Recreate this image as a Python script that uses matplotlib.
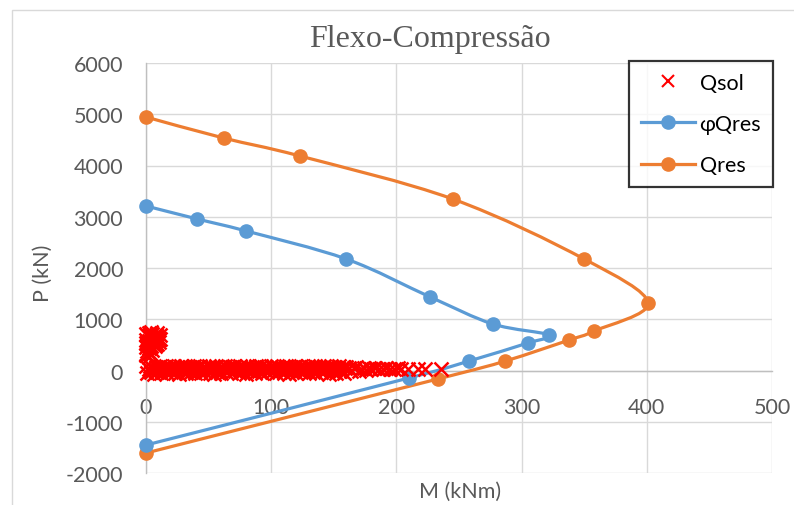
import matplotlib
matplotlib.use("Agg")
import matplotlib.pyplot as plt
from matplotlib.path import Path
from matplotlib.patches import PathPatch, Rectangle
from matplotlib.lines import Line2D
import numpy as np

plt.rcParams['font.family'] = ['Lato', 'DejaVu Sans']
plt.rcParams['axes.unicode_minus'] = False

# ---------------- data ----------------
title = "Flexo-Compressão"
x_label = "M (kNm)"
y_label = "P (kN)"
x_ticks = [0, 100, 200, 300, 400, 500]
y_ticks = [-2000, -1000, 0, 1000, 2000, 3000, 4000, 5000, 6000]

qres_M = [0, 62, 123, 245, 350, 401, 358, 338, 287, 233, 0]
qres_P = [4946, 4536, 4185, 3346, 2175, 1317, 770, 595, 185, -166, -1610]

phi_M = [0, 41, 80, 160, 227, 277, 322, 305, 258, 210, 0]
phi_P = [3210, 2956, 2722, 2175, 1434, 907, 693, 537, 185, -146, -1454]

qsol_band_M = [
    0, 1, 2, 3, 4, 5, 6, 7, 8, 9, 10, 11, 12, 13, 14, 15, 16, 17, 18, 19,
    20, 21, 22, 23, 24, 25, 26, 27, 28, 29, 30, 31, 32, 33, 34, 35, 36, 37, 38, 39,
    40, 41, 42, 43, 44, 45, 46, 47, 48, 49, 50, 51, 52, 53, 54, 55, 56, 57, 58, 59,
    60, 61, 62, 63, 64, 65, 66, 67, 68, 69, 70, 71, 72, 73, 74, 75, 76, 77, 78, 79,
    80, 81, 82, 83, 84, 85, 86, 87, 88, 89, 90, 91, 92, 93, 94, 95, 96, 97, 98, 99,
    100, 101, 102, 103, 104, 105, 106, 107, 108, 109, 110, 111, 112, 113, 114, 115,
    116, 117, 118, 119, 120, 121, 122, 123, 124, 125, 126, 127, 128, 129, 130, 131,
    132, 133, 134, 135, 136, 137, 138, 139, 140, 141, 142, 143, 144, 145, 146, 147,
    148, 149, 150, 151, 152, 153, 154, 155, 156, 157, 158, 159, 160,
    162, 164, 166, 168, 170, 172, 174, 176, 178, 180, 183, 186, 189, 192, 195, 198,
    201, 204, 209, 217, 223, 236]
qsol_band_P = [
    80, -50, 30, 95, -20, 55, -60, 10, 70, -35,
    45, 90, -45, 20, 60, -10, 85, -55, 35, 75,
    -25, 50, 95, -40, 15, 65, -60, 40, 80, -15,
    25, 90, -50, 55, 5, 70, -30, 45, 85, -45,
    20, 60, -5, 95, -55, 35, 75, -20, 50, 10,
    80, -40, 30, 65, -60, 45, 90, -25, 15, 70,
    -50, 55, 25, 85, -35, 40, 5, 75, -45, 60,
    95, -15, 30, 50, -55, 80, 20, -30, 65, 45,
    -60, 90, 10, 55, -20, 70, 35, -45, 85, 25,
    -10, 60, 95, -50, 40, 15, 75, -35, 50, 5,
    80, -25, 65, 30, -55, 90, 45, -15, 20, 70,
    -40, 55, 85, 10, -60, 35, 75, -20, 50, 95,
    -45, 25, 60, -5, 80, 40, -30, 65, 15, 90,
    -50, 45, 70, -25, 30, 85, -55, 55, 20, 75,
    -35, 50, 95, -10, 35, 65, -60, 40, 80, -20,
    25, 70, -45, 55, 90, -15, 30, 60, -50, 45,
    75,
    55, -10, 40, 60, 0, 35, 50, 10, 45, 30, 40, 20, 35, 45, 25, 30,
    40, 30, 35, 30, 35, 30]
qsol_clu_M = [0, 1, 2, 3, 4, 5, 6, 7, 8, 9, 10, 11, 0, 2, 4, 6, 8, 10, 1, 3,
              5, 7, 9, 0, 2, 4, 1, 3, 0, 5, 8, 2, 6, 11, 9, 0, 4]
qsol_clu_P = [720, 690, 740, 700, 660, 710, 680, 640, 700, 660, 620, 690, 600,
              580, 620, 560, 590, 560, 520, 500, 540, 480, 510, 450, 430, 470,
              380, 350, 300, 400, 520, 260, 650, 610, 730, 540, 760]

qsol_M = qsol_band_M + qsol_clu_M
qsol_P = qsol_band_P + qsol_clu_P

# ---------------- style ----------------
BLUE = "#5B9BD5"
ORANGE = "#ED7D31"
RED = "#FF0000"
GRID = "#D9D9D9"
AXIS = "#BFBFBF"
TXT = "#595959"
FS = 15.5

W, H = 794, 506
fig = plt.figure(figsize=(W / 100, H / 100), dpi=100)
L, R, T, B = 146, 772, 64, 474
ax = fig.add_axes([L / W, 1 - B / H, (R - L) / W, (B - T) / H])

# outer chart border
fig.patches.append(Rectangle((12 / W, -0.1), 1.2, 1 - 11 / H + 0.1,
                             transform=fig.transFigure, fill=False,
                             edgecolor="#D9D9D9", lw=1.0, zorder=0))

ax.set_xlim(0, 500)
ax.set_ylim(-2000, 6000)
ax.set_xticks(x_ticks)
ax.set_yticks(y_ticks)
ax.grid(True, color=GRID, lw=1.0)
ax.set_axisbelow(True)
for s in ['top', 'right']:
    ax.spines[s].set_visible(False)
ax.spines['left'].set_color(AXIS)
ax.spines['left'].set_linewidth(1.0)
ax.spines['bottom'].set_position(('data', 0))
ax.spines['bottom'].set_color(AXIS)
ax.spines['bottom'].set_linewidth(1.0)
ax.tick_params(axis='both', length=0, labelsize=FS, labelcolor=TXT)
ax.tick_params(axis='x', pad=19)
ax.tick_params(axis='y', pad=16.5)


def smooth_path(xs, ys):
    pts = np.column_stack([xs, ys]).astype(float)
    n = len(pts)
    verts = [pts[0]]
    codes = [Path.MOVETO]
    for i in range(n - 1):
        p0 = pts[i - 1] if i > 0 else pts[i]
        p1 = pts[i]
        p2 = pts[i + 1]
        p3 = pts[i + 2] if i + 2 < n else pts[i + 1]
        c1 = p1 + (p2 - p0) / 6.0
        c2 = p2 - (p3 - p1) / 6.0
        verts += [c1, c2, p2]
        codes += [Path.CURVE4] * 3
    return Path(verts, codes)


for xs, ys, c in [(qres_M, qres_P, ORANGE), (phi_M, phi_P, BLUE)]:
    ax.add_patch(PathPatch(smooth_path(xs, ys), fill=False, edgecolor=c,
                           lw=2.3, capstyle='round', joinstyle='round', zorder=3))
    ax.plot(xs, ys, ls='none', marker='o', ms=9.5, color=c, zorder=4, clip_on=False)

ax.plot(qsol_M, qsol_P, ls='none', marker='x', ms=9.5, mew=1.8, color=RED,
        zorder=5, clip_on=False)

# labels
fig.text(430 / W, 1 - 47 / H, title, family='Liberation Serif', fontsize=23,
         color=TXT, ha='center', va='baseline')
fig.text(43 / W, 1 - 273 / H, y_label, fontsize=FS, color=TXT, rotation=90,
         ha='center', va='center')
fig.text(460 / W, 1 - 492 / H, x_label, fontsize=FS, color=TXT,
         ha='center', va='center')

handles = [
    Line2D([], [], ls='none', marker='x', ms=9, mew=1.5, color=RED),
    Line2D([], [], color=BLUE, lw=2.3, marker='o', ms=9.5),
    Line2D([], [], color=ORANGE, lw=2.3, marker='o', ms=9.5),
]
leg = fig.legend(handles, ["Qsol", "φQres", "Qres"], loc='upper right',
                 bbox_to_anchor=(773 / W, 1 - 62 / H), fontsize=FS,
                 frameon=True, fancybox=False, handlelength=2.5,
                 labelspacing=0.98, handletextpad=0.22, borderpad=0.55,
                 borderaxespad=0)
leg.get_frame().set_edgecolor('black')
leg.get_frame().set_linewidth(1.6)

fig.savefig("out.png", dpi=100)
